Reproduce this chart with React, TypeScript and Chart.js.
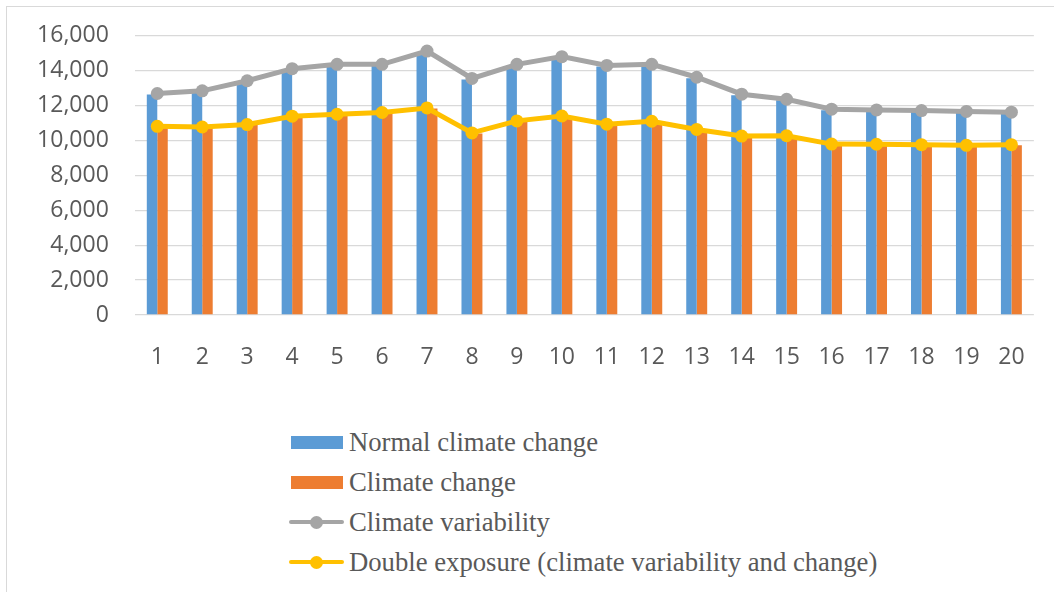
import React, { useEffect, useRef } from "react";
import { Chart, registerables } from "chart.js";

Chart.register(...registerables);

const categories = ["1","2","3","4","5","6","7","8","9","10","11","12","13","14","15","16","17","18","19","20"];
const normalClimateChange = [12630, 12780, 13360, 14050, 14300, 14300, 15050, 13490, 14300, 14740, 14240, 14300, 13560, 12590, 12300, 11730, 11690, 11650, 11600, 11550];
const climateChange = [10780, 10740, 10880, 11360, 11470, 11570, 11830, 10400, 11090, 11370, 10900, 11070, 10600, 10220, 10240, 9760, 9750, 9730, 9690, 9720];
const climateVariability = [12690, 12840, 13420, 14110, 14360, 14360, 15120, 13550, 14360, 14800, 14300, 14360, 13620, 12650, 12360, 11790, 11750, 11710, 11660, 11620];
const doubleExposure = [10810, 10770, 10910, 11390, 11500, 11600, 11860, 10430, 11120, 11400, 10930, 11100, 10630, 10250, 10270, 9790, 9780, 9760, 9720, 9760];
const seriesNames = [
  "Normal climate change",
  "Climate change",
  "Climate variability",
  "Double exposure (climate variability and change)",
];

const BLUE = "#5B9BD5";
const ORANGE = "#ED7D31";
const GREY = "#A5A5A5";
const YELLOW = "#FFC000";
const TEXT = "#595959";

export default function App() {
  const canvasRef = useRef<HTMLCanvasElement | null>(null);

  useEffect(() => {
    if (!canvasRef.current) return;
    const chart = new Chart(canvasRef.current, {
      type: "bar",
      data: {
        labels: categories,
        datasets: [
          {
            type: "bar",
            label: seriesNames[0],
            data: normalClimateChange,
            backgroundColor: BLUE,
            borderWidth: 0,
            order: 1,
            barPercentage: 1,
            categoryPercentage: 0.466,
          },
          {
            type: "bar",
            label: seriesNames[1],
            data: climateChange,
            backgroundColor: ORANGE,
            borderWidth: 0,
            order: 1,
            barPercentage: 1,
            categoryPercentage: 0.466,
          },
          {
            type: "line",
            label: seriesNames[2],
            data: climateVariability,
            borderColor: GREY,
            backgroundColor: GREY,
            borderWidth: 5,
            pointRadius: 6.5,
            pointBorderWidth: 0,
            pointBackgroundColor: GREY,
            tension: 0,
            order: 0,
          },
          {
            type: "line",
            label: seriesNames[3],
            data: doubleExposure,
            borderColor: YELLOW,
            backgroundColor: YELLOW,
            borderWidth: 5,
            pointRadius: 6.5,
            pointBorderWidth: 0,
            pointBackgroundColor: YELLOW,
            tension: 0,
            order: 0,
          },
        ],
      },
      options: {
        animation: false,
        responsive: false,
        maintainAspectRatio: false,
        layout: { padding: { left: 0, right: 18.2, top: 35.7, bottom: 3.4 } },
        plugins: {
          legend: { display: false },
          tooltip: { enabled: false },
        },
        scales: {
          x: {
            grid: { display: false, drawTicks: false },
            border: { display: false },
            ticks: {
              color: TEXT,
              padding: 29,
              font: { family: "'Open Sans'", size: 23 },
              maxRotation: 0,
              autoSkip: false,
            },
          },
          y: {
            min: 0,
            max: 16000,
            afterFit: (scale: any) => {
              scale.width = 134.8;
              scale.paddingTop = 14;
              scale.paddingBottom = 14;
            },
            grid: { color: "#d9d9d9", lineWidth: 1.3, drawTicks: false },
            border: { display: false },
            ticks: {
              stepSize: 2000,
              color: TEXT,
              padding: 26,
              font: { family: "'Open Sans'", size: 23 },
              callback: (v: any) => Number(v).toLocaleString("en-US"),
            },
          },
        },
      },
    });
    return () => chart.destroy();
  }, []);

  const legendItems = [
    { name: seriesNames[0], color: BLUE, kind: "box" },
    { name: seriesNames[1], color: ORANGE, kind: "box" },
    { name: seriesNames[2], color: GREY, kind: "line" },
    { name: seriesNames[3], color: YELLOW, kind: "line" },
  ];

  return (
    <div
      style={{
        position: "fixed",
        left: 0,
        top: 0,
        width: 1054,
        height: 592,
        overflow: "hidden",
        background: "#fff",
      }}
    >
      <div
        style={{
          position: "absolute",
          left: 5.5,
          top: 6,
          width: 1200,
          height: 800,
          borderLeft: "1.5px solid #d9d9d9",
          borderTop: "1.5px solid #d9d9d9",
        }}
      />
      <canvas
        ref={canvasRef}
        width={1054}
        height={404}
        style={{ position: "absolute", left: 0, top: 0, width: 1054, height: 404 }}
      />
      <div style={{ position: "absolute", left: 289, top: 422.3 }}>
        {legendItems.map((it) => (
          <div
            key={it.name}
            style={{
              height: 40,
              display: "flex",
              alignItems: "center",
              fontFamily: "'Liberation Serif', 'Times New Roman', serif",
              fontSize: 26.7,
              color: TEXT,
              whiteSpace: "nowrap",
            }}
          >
            <div style={{ width: 60, height: 40, position: "relative", flex: "none" }}>
              {it.kind === "box" ? (
                <div
                  style={{
                    position: "absolute",
                    left: 2,
                    top: 13.4,
                    width: 52,
                    height: 13.3,
                    background: it.color,
                  }}
                />
              ) : (
                <>
                  <div
                    style={{
                      position: "absolute",
                      left: 0,
                      top: 18,
                      width: 55,
                      height: 4,
                      borderRadius: 2,
                      background: it.color,
                    }}
                  />
                  <div
                    style={{
                      position: "absolute",
                      left: 20.5,
                      top: 13.5,
                      width: 13,
                      height: 13,
                      borderRadius: 6.5,
                      background: it.color,
                    }}
                  />
                </>
              )}
            </div>
            <span>{it.name}</span>
          </div>
        ))}
      </div>
    </div>
  );
}
